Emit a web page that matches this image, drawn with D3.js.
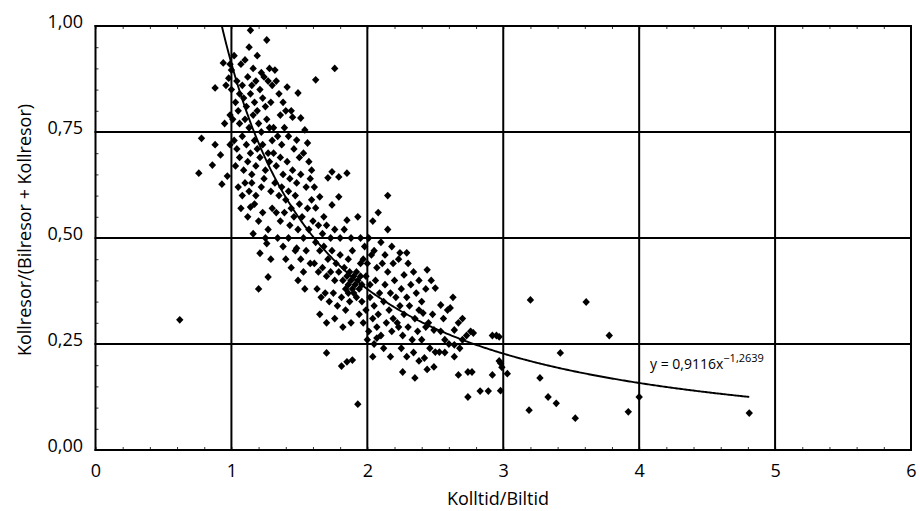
<!DOCTYPE html>
<html><head><meta charset="utf-8">
<script src="https://cdn.jsdelivr.net/npm/d3@7"></script>
<style>body{margin:0;background:#fff}</style>
</head><body>
<svg id="c" width="920" height="511"></svg>
<script>
const xTicks=[0,1,2,3,4,5,6];
const yTicks=[0,0.25,0.5,0.75,1];
const xTitle="Kolltid/Biltid";
const yTitle="Kollresor/(Bilresor + Kollresor)";
const fitA=0.9116, fitB=-1.2639;
const fitRange=[0.929,4.81];
const eqMain="y = 0,9116x", eqExp="\u22121,2639";
const eqPos=[4.08,0.19];

// [Kolltid/Biltid, Kollresor/(Bilresor+Kollresor)]
const obs=[
[0.62,0.307],[0.78,0.735],[0.76,0.653],[0.86,0.672],[0.88,0.854],[0.88,0.72],[0.92,0.696],[0.93,0.627],[0.94,0.913],[0.97,0.646],[0.99,0.72],[0.99,0.79],[0.95,0.77],[0.98,0.877],[0.99,0.91],[1.00,0.85],[0.96,0.86],
[1.02,0.93],[1.07,0.91],[1.10,0.92],[1.14,0.99],[1.16,0.90],[1.19,0.93],[1.22,0.89],[1.26,0.967],[1.28,0.90],[1.13,0.95],
[1.00,0.896],[1.04,0.87],[1.08,0.86],[1.12,0.88],[1.15,0.86],[1.18,0.87],[1.21,0.85],[1.24,0.88],[1.27,0.87],[1.30,0.86],[1.06,0.84],
[1.03,0.82],[1.05,0.80],[1.09,0.83],[1.11,0.81],[1.14,0.84],[1.17,0.82],[1.19,0.80],[1.23,0.83],[1.25,0.81],[1.29,0.82],
[1.01,0.78],[1.06,0.77],[1.10,0.78],[1.13,0.76],[1.16,0.79],[1.20,0.77],[1.22,0.75],[1.26,0.78],[1.28,0.76],
[1.02,0.73],[1.04,0.71],[1.08,0.74],[1.11,0.72],[1.14,0.70],[1.17,0.73],[1.19,0.71],[1.23,0.72],[1.27,0.70],[1.30,0.73],
[1.03,0.67],[1.06,0.69],[1.09,0.66],[1.12,0.68],[1.15,0.65],[1.18,0.67],[1.21,0.69],[1.25,0.66],[1.28,0.68],
[1.05,0.62],[1.08,0.60],[1.10,0.63],[1.13,0.61],[1.15,0.63],[1.18,0.60],[1.22,0.62],[1.24,0.64],[1.29,0.61],
[1.07,0.57],[1.12,0.55],[1.14,0.573],[1.17,0.58],[1.20,0.54],[1.23,0.56],[1.27,0.52],[1.30,0.57],[1.16,0.51],[1.25,0.50],
[1.21,0.464],[1.26,0.487],[1.27,0.408],[1.20,0.38],[1.29,0.45],
[1.32,0.896],[1.33,0.87],[1.35,0.84],[1.38,0.82],[1.41,0.856],[1.40,0.80],[1.44,0.80],[1.45,0.785],[1.49,0.842],[1.51,0.783],
[1.48,0.731],[1.56,0.724],[1.54,0.755],[1.36,0.79],[1.31,0.76],[1.34,0.74],[1.37,0.72],[1.39,0.76],[1.42,0.74],[1.46,0.71],
[1.50,0.69],[1.53,0.70],[1.57,0.68],[1.59,0.66],[1.31,0.70],[1.33,0.67],[1.36,0.69],[1.38,0.65],[1.41,0.68],[1.43,0.64],
[1.45,0.66],[1.48,0.63],[1.51,0.65],[1.55,0.62],[1.58,0.64],[1.32,0.63],[1.35,0.60],[1.37,0.62],[1.40,0.59],[1.42,0.61],
[1.44,0.57],[1.47,0.60],[1.50,0.58],[1.52,0.55],[1.56,0.57],[1.59,0.59],[1.33,0.56],[1.36,0.54],[1.39,0.56],[1.43,0.53],
[1.46,0.55],[1.49,0.52],[1.53,0.50],[1.57,0.52],[1.60,0.54],[1.34,0.50],[1.38,0.48],[1.42,0.50],[1.47,0.47],[1.51,0.45],
[1.55,0.47],[1.58,0.44],[1.44,0.43],[1.49,0.40],[1.54,0.38],[1.40,0.45],[1.48,0.476],[1.53,0.42],
[1.62,0.873],[1.76,0.90],[1.65,0.597],[1.62,0.571],[1.68,0.55],[1.71,0.642],[1.74,0.656],[1.79,0.644],[1.85,0.653],[1.79,0.597],
[1.74,0.578],[1.85,0.542],[1.61,0.62],[1.64,0.53],[1.67,0.51],[1.70,0.53],[1.73,0.50],[1.76,0.52],[1.80,0.50],[1.83,0.52],
[1.88,0.50],[1.62,0.49],[1.65,0.47],[1.68,0.48],[1.71,0.45],[1.74,0.47],[1.77,0.44],[1.80,0.46],[1.83,0.43],[1.86,0.45],
[1.89,0.47],[1.61,0.44],[1.64,0.42],[1.67,0.43],[1.70,0.41],[1.73,0.42],[1.76,0.40],[1.79,0.42],[1.82,0.40],[1.63,0.38],
[1.66,0.36],[1.69,0.37],[1.72,0.35],[1.75,0.37],[1.78,0.34],[1.81,0.36],[1.84,0.33],[1.87,0.35],[1.70,0.30],[1.76,0.31],
[1.82,0.29],[1.88,0.30],[1.65,0.32],[1.70,0.229],[1.81,0.198],[1.89,0.212],[1.93,0.108],
[1.84,0.38],[1.86,0.39],[1.88,0.40],[1.90,0.41],[1.92,0.42],[1.85,0.41],[1.87,0.42],[1.89,0.38],[1.91,0.39],[1.93,0.40],
[1.95,0.41],[1.86,0.37],[1.90,0.37],[1.94,0.38],[1.96,0.39],
[1.93,0.55],[2.04,0.54],[2.08,0.56],[2.15,0.60],[2.15,0.52],[1.95,0.50],[1.98,0.48],[2.01,0.50],[2.05,0.47],[2.10,0.49],
[2.13,0.46],[2.18,0.48],[1.97,0.45],[2.00,0.44],[2.03,0.46],[2.07,0.43],[2.11,0.44],[2.15,0.42],[2.19,0.44],[1.99,0.41],
[2.02,0.39],[2.06,0.40],[2.09,0.37],[2.13,0.39],[2.17,0.37],[2.20,0.40],[1.96,0.35],[1.99,0.33],[2.02,0.36],[2.05,0.34],
[2.08,0.32],[2.12,0.35],[2.16,0.33],[2.19,0.31],[1.97,0.30],[2.01,0.28],[2.04,0.31],[2.07,0.29],[2.10,0.27],[2.14,0.30],
[2.18,0.28],[2.00,0.26],[2.12,0.24],[2.17,0.22],[2.05,0.25],[1.92,0.36],[1.94,0.32],[1.95,0.44],[2.21,0.36],[2.22,0.30],
[2.04,0.22],[2.07,0.264],[1.85,0.208],
[2.23,0.45],[2.27,0.413],[2.30,0.44],[2.34,0.42],[2.38,0.40],[2.44,0.425],[2.47,0.40],[2.25,0.38],[2.29,0.36],[2.32,0.39],
[2.36,0.37],[2.40,0.35],[2.43,0.38],[2.50,0.382],[2.24,0.34],[2.27,0.32],[2.31,0.34],[2.35,0.31],[2.38,0.33],[2.41,0.323],
[2.45,0.30],[2.48,0.32],[2.23,0.29],[2.26,0.27],[2.30,0.29],[2.33,0.26],[2.37,0.28],[2.40,0.26],[2.43,0.29],[2.49,0.283],
[2.25,0.24],[2.29,0.22],[2.34,0.23],[2.38,0.21],[2.42,0.217],[2.46,0.24],[2.50,0.231],[2.49,0.196],[2.35,0.17],[2.26,0.184],
[2.44,0.19],[2.24,0.465],[2.29,0.465],
[2.54,0.342],[2.59,0.33],[2.63,0.36],[2.61,0.335],[2.56,0.31],[2.64,0.283],[2.67,0.30],[2.70,0.31],[2.70,0.26],[2.73,0.27],
[2.76,0.28],[2.78,0.276],[2.54,0.28],[2.57,0.26],[2.60,0.25],[2.64,0.248],[2.68,0.24],[2.53,0.231],[2.57,0.23],[2.64,0.22],
[2.74,0.184],[2.77,0.184],[2.67,0.177],[2.74,0.125],[2.83,0.139],[2.89,0.139],[2.92,0.27],[2.97,0.267],[2.95,0.27],[2.92,0.177],
[2.98,0.205],[2.99,0.195],[2.98,0.14],[3.03,0.18],[2.97,0.21],
[3.20,0.354],[3.61,0.349],[3.78,0.27],[3.42,0.229],[3.27,0.17],[3.33,0.125],[3.39,0.11],[3.19,0.094],[3.53,0.075],[3.92,0.09],
[4.00,0.125],[4.81,0.087]
];

const x=d3.scaleLinear().domain([0,6]).range([95.5,911]);
const y=d3.scaleLinear().domain([0,1]).range([450,26]);
const svg=d3.select("#c");
const font="'Open Sans', sans-serif";

// minor ticks
const minorX=d3.range(0,6.001,0.2);
const minorY=d3.range(0,1.001,0.05);
svg.append("g").attr("transform",`translate(0,${y(0)})`)
  .call(d3.axisBottom(x).tickValues(minorX).tickSize(-3).tickFormat(""))
  .call(g=>g.select(".domain").remove()).selectAll("line").attr("stroke","#000").attr("stroke-width",0.8);
svg.append("g").attr("transform",`translate(0,${y(1)})`)
  .call(d3.axisTop(x).tickValues(minorX).tickSize(-3).tickFormat(""))
  .call(g=>g.select(".domain").remove()).selectAll("line").attr("stroke","#000").attr("stroke-width",0.8);
svg.append("g").attr("transform",`translate(${x(0)},0)`)
  .call(d3.axisLeft(y).tickValues(minorY).tickSize(-3).tickFormat(""))
  .call(g=>g.select(".domain").remove()).selectAll("line").attr("stroke","#000").attr("stroke-width",0.8);

// grid
svg.append("g").selectAll("line").data(xTicks).join("line")
  .attr("x1",d=>x(d)).attr("x2",d=>x(d)).attr("y1",y(0)+1).attr("y2",y(1)-1)
  .attr("stroke","#000").attr("stroke-width",2);
svg.append("g").selectAll("line").data(yTicks).join("line")
  .attr("x1",x(0)-1).attr("x2",x(6)+1).attr("y1",d=>y(d)).attr("y2",d=>y(d))
  .attr("stroke","#000").attr("stroke-width",2);

// axes labels
const fmtY=d=>d3.format(".2f")(d).replace(".",",");
svg.append("g").attr("transform",`translate(0,${y(0)})`)
  .call(d3.axisBottom(x).tickValues(xTicks).tickSize(0).tickPadding(14).tickFormat(d3.format("d")))
  .call(g=>g.select(".domain").remove())
  .selectAll("text").attr("font-family",font).attr("font-size",18).attr("fill","#000");
svg.append("g").attr("transform",`translate(${x(0)},0)`)
  .call(d3.axisLeft(y).tickValues(yTicks).tickSize(0).tickPadding(12.5).tickFormat(fmtY))
  .call(g=>g.select(".domain").remove())
  .selectAll("text").attr("font-family",font).attr("font-size",18).attr("fill","#000").attr("dy","0.1em");

// titles
svg.append("text").attr("x",498).attr("y",505).attr("text-anchor","middle")
  .attr("font-family",font).attr("font-size",18).text(xTitle);
svg.append("text").attr("transform","translate(31,230) rotate(-90)").attr("text-anchor","middle")
  .attr("font-family",font).attr("font-size",18).text(yTitle);

// points
const diamond="M0,-3.9L3.7,0L0,3.9L-3.7,0Z";
svg.append("g").selectAll("path").data(obs).join("path")
  .attr("d",diamond).attr("transform",d=>`translate(${x(d[0])},${y(d[1])})`).attr("fill","#000");

// fitted curve
const xs=d3.range(fitRange[0],fitRange[1],0.01).concat([fitRange[1]]);
svg.append("path").datum(xs)
  .attr("d",d3.line().x(d=>x(d)).y(d=>y(fitA*Math.pow(d,fitB))))
  .attr("fill","none").attr("stroke","#000").attr("stroke-width",1.9);

// equation
const eq=svg.append("text").attr("x",x(eqPos[0])).attr("y",y(eqPos[1]))
  .attr("font-family",font).attr("font-size",14).attr("fill","#000");
eq.append("tspan").text(eqMain);
eq.append("tspan").attr("font-size",11).attr("dy",-7).text(eqExp);
</script>
</body></html>
